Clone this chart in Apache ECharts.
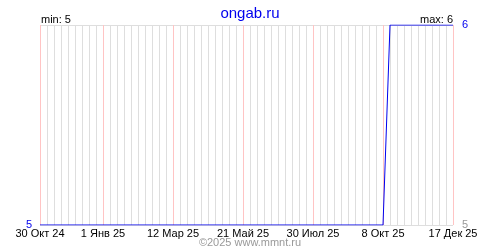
<!DOCTYPE html>
<html><head><meta charset="utf-8">
<script src="https://cdn.jsdelivr.net/npm/echarts@6/dist/echarts.min.js"></script>
<style>html,body{margin:0;padding:0;background:#fff}#c{width:500px;height:250px}</style>
</head><body><div id="c"></div>
<script>
var titleText = 'ongab.ru';
var footerText = '©2025 www.mmnt.ru';
var startDate = '2024-10-30';
var endDate = '2025-12-17';
var pointDates = ['2024-10-30', '2025-10-08', '2025-10-15', '2025-12-17'];
var pointValues = [5, 5, 6, 6];
var labelDates = ['2024-10-30', '2025-01-01', '2025-03-12', '2025-05-21', '2025-07-30', '2025-10-08', '2025-12-17'];
var monthNames = ['Янв','Фев','Мар','Апр','Май','Июн','Июл','Авг','Сен','Окт','Ноя','Дек'];
var weekStep = 7;

function dayOf(s){var p=s.split('-');return Math.round((Date.UTC(+p[0],+p[1]-1,+p[2])-Date.UTC(2024,9,30))/86400000);}
var startDay = dayOf(startDate), endDay = dayOf(endDate);
var labelDays = labelDates.map(dayOf);
function fmt(d){var t=new Date(Date.UTC(2024,9,30)+d*86400000);return t.getUTCDate()+' '+monthNames[t.getUTCMonth()]+' '+String(t.getUTCFullYear()).slice(2);}
var seriesData = pointDates.map(function(d,i){return [dayOf(d), pointValues[i]];});
var minV = Math.min.apply(null, pointValues), maxV = Math.max.apply(null, pointValues);
var weekDays = [];
for (var d = startDay; d <= endDay; d += weekStep) if (labelDays.indexOf(d) < 0) weekDays.push(d);

var font = 'Liberation Sans, Arial, sans-serif';
var chart = echarts.init(document.getElementById('c'), null, {renderer:'canvas'});
chart.setOption({
  animation:false,
  backgroundColor:'#fff',
  title:{text:titleText,left:'center',top:1,textStyle:{color:'#0000ee',fontSize:15,fontWeight:'normal',fontFamily:font}},
  graphic:[
    {type:'text',left:41,top:14,style:{text:'min: '+minV,fill:'#000',font:'11px '+font}},
    {type:'text',right:47,top:14,style:{text:'max: '+maxV,fill:'#000',font:'11px '+font}},
    {type:'text',left:'center',top:237,style:{text:footerText,fill:'#999',font:'11px '+font}}
  ],
  grid:{left:40,right:47,top:25,bottom:25,containLabel:false,outerBoundsMode:'none'},
  xAxis:[
    {type:'value',min:startDay,max:endDay,z:0,
    axisLine:{show:false},axisTick:{show:false,customValues:weekDays},
    splitLine:{show:true,customValues:weekDays,lineStyle:{color:'#dedede',width:1}},
    axisLabel:{show:false}},
    {type:'value',min:startDay,max:endDay,position:'bottom',z:1,
    axisLine:{show:false},axisTick:{show:false,customValues:labelDays},
    splitLine:{show:true,customValues:labelDays,showMinLine:true,showMaxLine:true,lineStyle:{color:'#ffc4c4',width:1}},
    axisLabel:{show:true,customValues:labelDays,margin:3,showMinLabel:true,showMaxLabel:true,hideOverlap:false,color:'#000',fontSize:11,fontFamily:font,
      formatter:function(v){return fmt(v);}}}
  ],
  yAxis:[
    {type:'value',min:minV,max:maxV,interval:1,position:'left',
     axisLine:{show:false},axisTick:{show:false},
     splitLine:{show:true,lineStyle:{color:'#dedede'}},
     axisLabel:{margin:8,color:'#0000ee',fontSize:11,fontFamily:font,formatter:function(v){return v===minV?String(v):'';}}},
    {type:'value',min:minV,max:maxV,interval:1,position:'right',
     axisLine:{show:false},axisTick:{show:false},splitLine:{show:false},
     axisLabel:{margin:9,fontSize:11,fontFamily:font,
       color:function(v){return +v===maxV?'#0000ee':'#999';},
       formatter:function(v){return String(v);}}}
  ],
  series:[
    {type:'line',data:seriesData,showSymbol:false,symbol:'none',
    lineStyle:{color:'#0000ee',width:1},z:5}]
});
</script></body></html>
